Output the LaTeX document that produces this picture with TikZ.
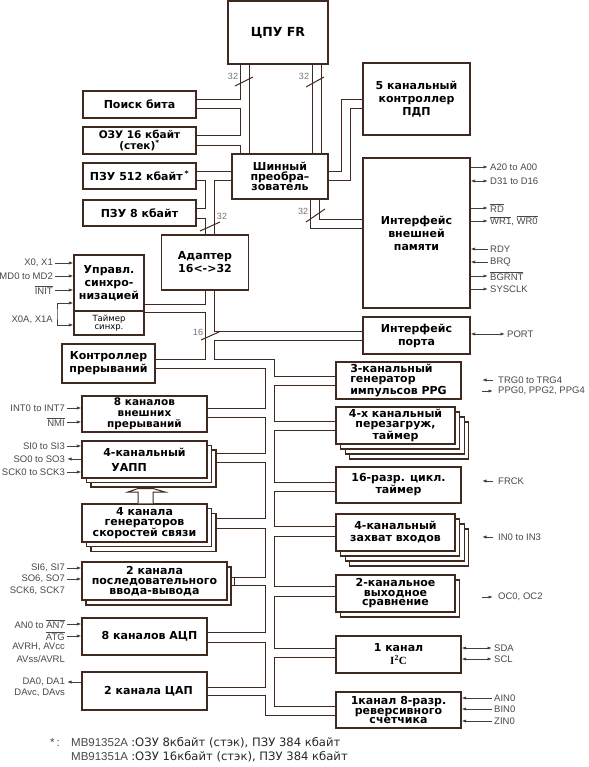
\documentclass[tikz,border=0pt]{standalone}
\usepackage{fontspec}
\setmainfont{Liberation Sans}
\newfontfamily\vfont{DejaVu Sans}
\newfontfamily\tnfont{Liberation Serif}
\usepackage{tikz}
\usetikzlibrary{arrows.meta}

\definecolor{wirecol}{RGB}{64,42,32}
\definecolor{sigcol}{RGB}{72,72,72}
\newcommand{\ovl}[1]{$\overline{\hbox{#1}}$}

\begin{document}
\begin{tikzpicture}[x=1pt, y=-1pt, >={Latex[length=4.5pt,width=3.2pt]},
    blk/.style={draw=wirecol, line width=1.1pt, fill=white, inner sep=0pt, align=center,
        font=\vfont\bfseries\fontsize{11}{10}\selectfont},
    wide/.style={font=\vfont\bfseries\fontsize{11}{13}\selectfont},
    bus/.style={draw=wirecol, line width=1pt},
    sig/.style={draw=black!75, line width=0.8pt},
    tout/.style={->}, tin/.style={<-}, tbi/.style={<->},
    lbl/.style={font=\fontsize{9.5}{10}\selectfont, text=sigcol, inner sep=2pt},
    wd/.style={font=\fontsize{9}{9}\selectfont, text=black!55, inner sep=0pt}]

    \useasboundingbox (0,0) rectangle (588,767);

    % Processor, memories and bus converter
    \node[blk, minimum width=100, minimum height=63, font=\vfont\bfseries\fontsize{12.5}{13}\selectfont] (cpu) at (278,32.5) {ЦПУ FR};
    \node[blk, minimum width=113, minimum height=27] (bitsrch) at (139.5,104.5) {Поиск бита};
    \node[blk, minimum width=113, minimum height=27, font=\vfont\bfseries\fontsize{10.5}{11.5}\selectfont] (ram) at (139.5,140.5) {ОЗУ 16 кбайт\\(стек)\textsuperscript{*}};
    \node[blk, minimum width=113, minimum height=26] (rom512) at (139.5,176) {ПЗУ 512 кбайт\,\textsuperscript{*}};
    \node[blk, minimum width=113, minimum height=26] (rom8) at (139.5,213) {ПЗУ 8 кбайт};
    \node[blk, minimum width=96, minimum height=45] (bconv) at (280,176.5) {Шинный\\преобра–\\зователь};
    \node[blk, wide, minimum width=107, minimum height=72] (dma) at (416.5,99) {5 канальный\\контроллер\\ПДП};
    \node[blk, wide, minimum width=107, minimum height=150] (extif) at (416.5,233) {Интерфейс\\внешней\\памяти};
    \node[blk, wide, minimum width=87, minimum height=55] (adapt) at (205,262.5) {Адаптер\\16<->32};

    % Clock control and interrupt controller
    \node[blk, wide, minimum width=70, minimum height=56] (clk) at (109,283) {Управл.\\синхро-\\низацией};
    \node[blk, minimum width=70, minimum height=24, font=\vfont\fontsize{8.5}{8.5}\selectfont] (tmr) at (109,323) {Таймер\\синхр.};
    \node[blk, wide, minimum width=93, minimum height=39] (irq) at (108.5,363.5) {Контроллер\\прерываний};

    % Right column of peripherals
    \node[blk, wide, minimum width=107, minimum height=37] (port) at (416.5,335.5) {Интерфейс\\порта};
    \node[blk, align=left, minimum width=125, minimum height=37] (ppg) at (398.5,380.5) {3-канальный\\генератор\\импульсов PPG};
    \foreach \k in {3,2,1}
        \node[blk, minimum width=119, minimum height=37] (reload\k) at ({395.5+4.6*\k},{425.5+5*\k}) {};
    \node[blk, minimum width=119, minimum height=37] (reload) at (395.5,425.5) {4-х канальный\\перезагруж,\\таймер};
    \node[blk, minimum width=125, minimum height=36, font=\vfont\bfseries\fontsize{11}{12}\selectfont] (frt) at (398.5,485) {16-разр. цикл.\\таймер};
    \foreach \k in {3,2,1}
        \node[blk, minimum width=119, minimum height=37] (icu\k) at ({395.5+4.6*\k},{532.5+5*\k}) {};
    \node[blk, minimum width=119, minimum height=37, font=\vfont\bfseries\fontsize{11}{12}\selectfont] (icu) at (395.5,532.5) {4-канальный\\захват входов};
    \node[blk, minimum width=119, minimum height=37] (ocu1) at (400.1,598.5) {};
    \node[blk, minimum width=119, minimum height=37, font=\vfont\bfseries\fontsize{11}{9.5}\selectfont] (ocu) at (395.5,593.5) {2-канальное\\выходное\\сравнение};
    \node[blk, wide, minimum width=125, minimum height=37] (i2c) at (398.5,654.5) {1 канал\\{\tnfont I\textsuperscript{2}C}};
    \node[blk, minimum width=125, minimum height=36, font=\vfont\bfseries\fontsize{11}{9.5}\selectfont] (udc) at (398.5,710) {1канал 8-разр.\\реверсивного\\счетчика};

    % Left column of peripherals
    \node[blk, minimum width=125, minimum height=36, font=\vfont\bfseries\fontsize{10.5}{11}\selectfont] (extint) at (144.5,414) {8 каналов\\внешних\\прерываний};
    \foreach \k in {2,1}
        \node[blk, minimum width=125, minimum height=37] (uart\k) at ({144.5+4.5*\k},{459.5+4.5*\k}) {};
    \node[blk, align=left, minimum width=125, minimum height=37, font=\vfont\bfseries\fontsize{11}{15}\selectfont] (uart) at (144.5,459.5) {4-канальный\\\hspace*{8pt}УАПП};
    \foreach \k in {2,1}
        \node[blk, minimum width=125, minimum height=38] (baud\k) at ({144.5+4.5*\k},{523+4.75*\k}) {};
    \node[blk, minimum width=125, minimum height=38] (baud) at (144.5,523) {4 канала\\генераторов\\скоростей связи};
    \node[blk, minimum width=145, minimum height=38] (sio1) at (158.5,586) {};
    \node[blk, minimum width=145, minimum height=38] (sio) at (154.5,581) {2 канала\\последовательного\\ввода-вывода};
    \node[blk, minimum width=125, minimum height=37] (adc) at (144.5,636.5) {\hspace*{10pt}8 каналов АЦП};
    \node[blk, minimum width=125, minimum height=38] (dac) at (144.5,691) {\hspace*{8pt}2 канала ЦАП};

    % Block arrow from baud rate generators up to UART
    \draw[bus, fill=white] (baud.north -| 138,0) -- (138,492) -- (128,492) -- (138,488.5) -- (153,488.5)
        -- (165,492) -- (153,492) -- (baud.north -| 153,0);

    % Internal buses at the top
    \draw[bus] (cpu.south -| 240,0) |- (bitsrch.east |- 0,100);
    \draw[bus] (bitsrch.east |- 0,109) -| (240,136) -- (ram.east |- 0,136);
    \draw[bus] (ram.east |- 0,146) -| (bconv.north -| 240,0);
    \draw[bus] (cpu.south -| 249,0) -- (bconv.north -| 249,0);
    \draw[bus] (cpu.south -| 312,0) -- (bconv.north -| 312,0);
    \draw[bus] (cpu.south -| 321,0) -- (bconv.north -| 321,0);
    \draw[bus] (bconv.east |- 0,172) -| (341,100) -- (dma.west |- 0,100);
    \draw[bus] (bconv.east |- 0,181) -| (350,109) -- (dma.west |- 0,109);
    \draw[bus] (bconv.south -| 319,0) |- (extif.west |- 0,219);
    \draw[bus] (bconv.south -| 310,0) |- (extif.west |- 0,228);
    \draw[bus] (rom512.east |- 0,172) -- (bconv.west |- 0,172);
    \draw[bus] (bconv.west |- 0,181) -| (adapt.north -| 214,0);
    \draw[bus] (rom512.east |- 0,181) -| (205,209) -- (rom8.east |- 0,209);
    \draw[bus] (rom8.east |- 0,218) -| (adapt.north -| 205,0);

    % Bus widths
    \node[wd] (w1) at (233,76) {32};
    \draw[bus] (235,86) -- (253,77);
    \node[wd] (w2) at (304,76) {32};
    \draw[bus] (306,87) -- (324,77);
    \node[wd] (w3) at (303,211) {32};
    \draw[bus] (306,222) -- (325,209);
    \node[wd] (w4) at (222,216) {32};
    \draw[bus] (200,231) -- (220,222);
    \node[wd] (w5) at (198,332) {16};
    \draw[bus] (201,340) -- (219,332);

    % Peripheral bus, left chain
    \draw[bus] (adapt.south -| 205,0) |- (clk.east |- 0,304);
    \draw[bus] (clk.east |- 0,312) -| (205,359) -- (irq.east |- 0,359);
    \draw[bus] (irq.east |- 0,368) -| (265,408) -- (extint.east |- 0,408);
    \draw[bus] (extint.east |- 0,417) -| (265,453) -- (uart2.east |- 0,453);
    \draw[bus] (uart2.east |- 0,462) -| (265,518) -- (baud2.east |- 0,518);
    \draw[bus] (baud2.east |- 0,528) -| (265,577) -- (sio1.east |- 0,577);
    \draw[bus] (sio1.east |- 0,577) rectangle (234,585);
    \draw[bus] (sio1.east |- 0,585) -| (265,632) -- (adc.east |- 0,632);
    \draw[bus] (adc.east |- 0,642) -| (265,687) -- (dac.east |- 0,687);
    \draw[bus] (dac.east |- 0,695) -| (265,715) -- (udc.west |- 0,715);

    % Peripheral bus, right chain
    \draw[bus] (adapt.south -| 214,0) |- (port.west |- 0,331);
    \draw[bus] (port.west |- 0,340) -| (214,359) -| (274,376) -- (ppg.west |- 0,376);
    \draw[bus] (ppg.west |- 0,385) -| (274,421) -- (reload.west |- 0,421);
    \draw[bus] (reload.west |- 0,430) -| (274,482) -- (frt.west |- 0,482);
    \draw[bus] (frt.west |- 0,491) -| (274,526) -- (icu.west |- 0,526);
    \draw[bus] (icu.west |- 0,536) -| (274,586) -- (ocu.west |- 0,586);
    \draw[bus] (ocu.west |- 0,596) -| (274,648) -- (i2c.west |- 0,648);
    \draw[bus] (i2c.west |- 0,657) -| (274,706) -- (udc.west |- 0,706);

    % External signals, left side
    \foreach \nm/\y/\txt/\tip in {x/263/{X0, X1}/tout, md/276/MD0 to MD2/tout, init/290/\ovl{INIT}/tout} {
        \node[lbl, anchor=east] (s\nm) at (55,\y) {\txt};
        \draw[sig, \tip] (s\nm.east) -- (clk.west |- s\nm);
    }
    \node[lbl, anchor=east] (sxa) at (55,320) {X0A, X1A};
    \draw[sig, <->] (clk.west |- 0,303) -| (57,314) |- (tmr.west |- 0,325);
    \foreach \nm/\bx/\y/\txt/\tip in {int/extint/408/INT0 to INT7/tout, nmi/extint/422/\ovl{NMI}/tout,
        si/uart/446/SI0 to SI3/tout, so/uart/459/SO0 to SO3/tin, sck/uart/472/SCK0 to SCK3/tout,
        sis/sio/568/{SI6, SI7}/tout, sos/sio/579/{SO6, SO7}/tout,
        an/adc/624/AN0 to \ovl{AN7}/tout, atg/adc/636/\ovl{ATG}/tout, dac1/dac/682/{DA0, DA1}/tin} {
        \node[lbl, anchor=east] (s\nm) at (67,\y) {\txt};
        \draw[sig, \tip] (s\nm.east) -- (\bx.west |- s\nm);
    }
    \node[lbl, anchor=east] (scks) at (67,591) {SCK6, SCK7};
    \node[lbl, anchor=east] (savr) at (67,647) {AVRH, AVcc};
    \node[lbl, anchor=east] (savs) at (67,659) {AVss/AVRL};
    \node[lbl, anchor=east] (sdav) at (67,693) {DAvc, DAvs};

    % External signals, right side
    \foreach \nm/\y/\txt/\tip in {a/167/A20 to A00/tout, d/181/D31 to D16/tbi, rd/208/\ovl{RD}/tout,
        wr/221/{\ovl{WR1}, \ovl{WR0}}/tout, rdy/249/RDY/tin, brq/262/BRQ/tin,
        bg/276/\ovl{BGRNT}/tout, sys/289/SYSCLK/tout} {
        \node[lbl, anchor=west] (s\nm) at (488,\y) {\txt};
        \draw[sig, \tip] (extif.east |- s\nm) -- (s\nm.west);
    }
    \node[lbl, anchor=west] (sport) at (505,334) {PORT};
    \draw[sig, <->] (port.east |- sport) -- (sport.west);
    \foreach \nm/\y/\txt/\tip in {trg/380/TRG0 to TRG4/tout, ppgo/391/{PPG0, PPG2, PPG4}/tin,
        frck/481/FRCK/tout, inp/537/IN0 to IN3/tout, oc/597/{OC0, OC2}/tin} {
        \node[lbl, anchor=west] (s\nm) at (496,\y) {\txt};
        \draw[sig, \tip] ([xshift=-3pt]s\nm.west) -- ++(-11,0);
    }
    \foreach \nm/\y/\txt in {sdat/648/SDA, scl/659/SCL} {
        \node[lbl, anchor=west] (s\nm) at (492,\y) {\txt};
        \draw[sig, <->] (i2c.east |- s\nm) -- (s\nm.west);
    }
    \foreach \nm/\y/\txt in {ain/698/AIN0, bin/709/BIN0, zin/721/ZIN0} {
        \node[lbl, anchor=west] (s\nm) at (492,\y) {\txt};
        \draw[sig, ->] (s\nm.west) -- (udc.east |- s\nm);
    }

    % Footnote
    \node[anchor=base east, font=\fontsize{11.5}{12}\selectfont, text=sigcol, inner sep=0pt] (fnstar) at (60,746) {*\,:};
    \node[anchor=base west, font=\fontsize{11.5}{12}\selectfont, text=sigcol, inner sep=0pt] (fn1) at (71,746)
        {MB91352A {\vfont\fontsize{11.6}{12}\selectfont\color{black!85}:ОЗУ 8кбайт (стэк), ПЗУ 384 кбайт}};
    \node[anchor=base west, font=\fontsize{11.5}{12}\selectfont, text=sigcol, inner sep=0pt] (fn2) at (71,760)
        {MB91351A {\vfont\fontsize{11.6}{12}\selectfont\color{black!85}:ОЗУ 16кбайт (стэк), ПЗУ 384 кбайт}};
\end{tikzpicture}
\end{document}
